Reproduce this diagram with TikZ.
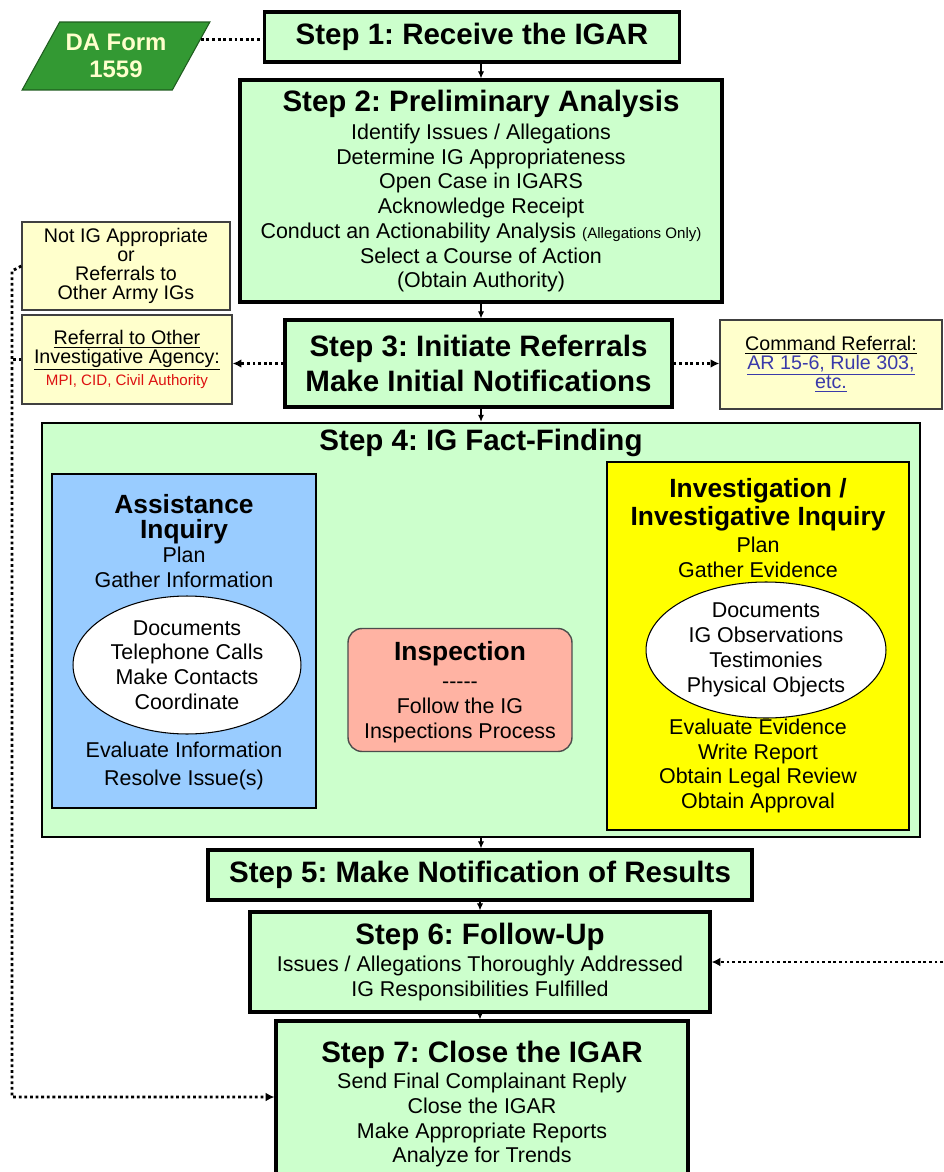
\documentclass[tikz,border=0pt]{standalone}
\usepackage{fontspec}
\setmainfont{Liberation Sans}
\usetikzlibrary{shapes, arrows.meta, positioning, fit, calc}
\definecolor{stepgreen}{HTML}{CCFFCC}
\definecolor{noteyellow}{HTML}{FFFFCC}
\definecolor{formgreen}{HTML}{339933}
\definecolor{assistblue}{HTML}{99CCFF}
\definecolor{invyellow}{HTML}{FFFF00}
\definecolor{inspsalmon}{HTML}{FFB3A3}
\definecolor{linkblue}{HTML}{3A3AAA}
\definecolor{refred}{HTML}{DD1111}
\newcommand{\stepfont}{\fontsize{16.8}{19.8}\selectfont\bfseries}
\newcommand{\bodyfont}{\fontsize{12.2}{14.1}\selectfont}
\newcommand{\notefont}{\fontsize{11.2}{10.8}\selectfont}
\newcommand{\boxhead}{\fontsize{15}{14.2}\selectfont\bfseries}
\newcommand{\tinynote}{\fontsize{8.6}{9}\selectfont}
\newcommand{\formfont}{\fontsize{13.6}{15.5}\selectfont\bfseries}
\frenchspacing

\begin{document}
\begin{tikzpicture}[x=0.02cm, y=-0.02cm,
      stepbox/.style={draw, line width=1.8pt, fill=stepgreen, align=center,
                      inner sep=0pt, font=\bodyfont},
      notebox/.style={draw=black!75, line width=0.8pt, fill=noteyellow,
                      align=center, inner sep=0pt, font=\notefont},
      innerbox/.style={draw, line width=1.6pt, inner sep=0pt},
      oval/.style={ellipse, draw, line width=0.6pt, fill=white, align=center,
                   inner sep=0pt, font=\bodyfont},
      txt/.style={align=center, inner sep=0pt, font=\bodyfont},
      formbox/.style={trapezium, trapezium stretches=true,
                      trapezium left angle=56, trapezium right angle=124,
                      fill=formgreen, draw=formgreen!60!black, line width=0.6pt,
                      text=noteyellow, align=center, font=\formfont,
                      minimum width=3.76cm, minimum height=1.36cm},
      arr/.style={-{Latex[length=4pt, width=3.5pt]}, line width=0.6pt},
      dotline/.style={line width=1.6pt, dash pattern=on 1.6pt off 1.6pt},
      dotarr/.style={dotline, -{Latex[length=5pt, width=5pt]}}
    ]
      \useasboundingbox (0,0) rectangle (943,1172);

      % main steps
      \node[stepbox, minimum width=8.3cm, minimum height=1cm, font=\stepfont]
        (step1) at (472,37) {Step 1: Receive the IGAR};
      \node[stepbox, minimum width=9.64cm, minimum height=4.44cm] (step2) at (481,191)
        {{\stepfont Step 2: Preliminary Analysis}\\[2pt]
         Identify Issues / Allegations\\
         Determine IG Appropriateness\\
         Open Case in IGARS\\
         Acknowledge Receipt\\
         Conduct an Actionability Analysis {\tinynote (Allegations Only)}\\
         Select a Course of Action\\
         (Obtain Authority)};
      \node[stepbox, minimum width=7.74cm, minimum height=1.74cm, font=\stepfont]
        (step3) at (478.5,363.5) {Step 3: Initiate Referrals\\Make Initial Notifications};

      \node[formbox] (daform) at (116,56) {DA Form\\1559};

      % referral notes
      \node[notebox, minimum width=4.16cm, minimum height=1.76cm] (notig) at (126,266)
        {Not IG Appropriate\\or\\Referrals to\\Other Army IGs};
      \node[notebox, minimum width=4.2cm, minimum height=1.78cm] (agency) at (127,359.5)
        {\underline{Referral to Other}\\\underline{Investigative Agency:}\\[2pt]
         \textcolor{refred}{\tinynote MPI, CID, Civil Authority}};
      \node[notebox, minimum width=4.44cm, minimum height=1.78cm] (cmdref) at (831,364.5)
        {\underline{Command Referral:}\\
         \textcolor{linkblue}{\underline{AR 15-6, Rule 303,}}\\
         \textcolor{linkblue}{\underline{etc.}}};

      % step 4 and its three paths
      \node[stepbox, line width=1.4pt, minimum width=17.56cm, minimum height=8.28cm]
        (step4) at (481,630) {};
      \node[txt, font=\stepfont] (s4title) at (481,443) {Step 4: IG Fact-Finding};

      \node[innerbox, fill=assistblue, minimum width=5.28cm, minimum height=6.68cm]
        (assist) at (184,641) {};
      \node[txt] (asttop) at (184,541)
        {{\boxhead Assistance}\\{\boxhead Inquiry}\\Plan\\Gather Information};
      \node[oval, minimum width=4.56cm, minimum height=2.76cm] (astoval) at (187,665)
        {Documents\\Telephone Calls\\Make Contacts\\Coordinate};
      \node[txt] (astbot) at (184,766) {Evaluate Information\\[2pt]Resolve Issue(s)};

      \node[innerbox, fill=invyellow, minimum width=6.04cm, minimum height=7.36cm]
        (invest) at (758,646) {};
      \node[txt] (invtop) at (758,528)
        {{\boxhead Investigation /}\\[2pt]{\boxhead Investigative Inquiry}\\[1pt]Plan\\Gather Evidence};
      \node[oval, minimum width=4.8cm, minimum height=2.72cm] (invoval) at (766,650)
        {Documents\\IG Observations\\Testimonies\\Physical Objects};
      \node[txt] (invbot) at (758,766)
        {Evaluate Evidence\\Write Report\\Obtain Legal Review\\Obtain Approval};

      \node[draw=black!70, line width=0.8pt, fill=inspsalmon, rounded corners=8pt,
            minimum width=4.48cm, minimum height=2.46cm, align=center, inner sep=0pt,
            font=\bodyfont, text depth=0pt] (insp) at (460,690)
        {{\boxhead Inspection}\\[2pt]-{}-{}-{}-{}-\\Follow the IG\\Inspections Process\rule[-6pt]{0pt}{1pt}};

      \node[stepbox, minimum width=10.88cm, minimum height=1cm, font=\stepfont]
        (step5) at (480,875) {Step 5: Make Notification of Results};
      \node[stepbox, minimum width=9.2cm, minimum height=2cm] (step6) at (480,962)
        {{\stepfont Step 6: Follow-Up}\\[1pt]
         Issues / Allegations Thoroughly Addressed\\
         IG Responsibilities Fulfilled};
      \node[stepbox, minimum width=8.24cm, minimum height=3.32cm] (step7) at (482,1104)
        {{\stepfont Step 7: Close the IGAR}\\[1pt]
         Send Final Complainant Reply\\
         Close the IGAR\\
         Make Appropriate Reports\\
         Analyze for Trends};

      % flow
      \draw[arr] (step1.south -| step2.north) -- (step2.north);
      \draw[arr] (step2.south) -- (step2.south |- step3.north);
      \draw[arr] (step4.north |- step3.south) -- (step4.north);
      \draw[arr] (step4.south) -- (step4.south |- step5.north);
      \draw[arr] (step5.south) -- (step6.north);
      \draw[arr] (step6.south) -- (step6.south |- step7.north);

      % dotted links
      \coordinate (loop) at (12,271);
      \coordinate (offpage) at (943,962);
      \draw[dotline] (daform.11) -- (daform.11 -| step1.west);
      \draw[dotarr] (step3.west) -- (step3.west -| agency.east);
      \draw[dotarr] (step3.east) -- (step3.east -| cmdref.west);
      \draw[dotarr] (notig.west) -- (loop) |- ([yshift=0.14cm]step7.west);
      \draw[dotline] (agency.west) -- (agency.west -| loop);
      \draw[dotarr] (offpage) -- (step6.east);
    \end{tikzpicture}
\end{document}
